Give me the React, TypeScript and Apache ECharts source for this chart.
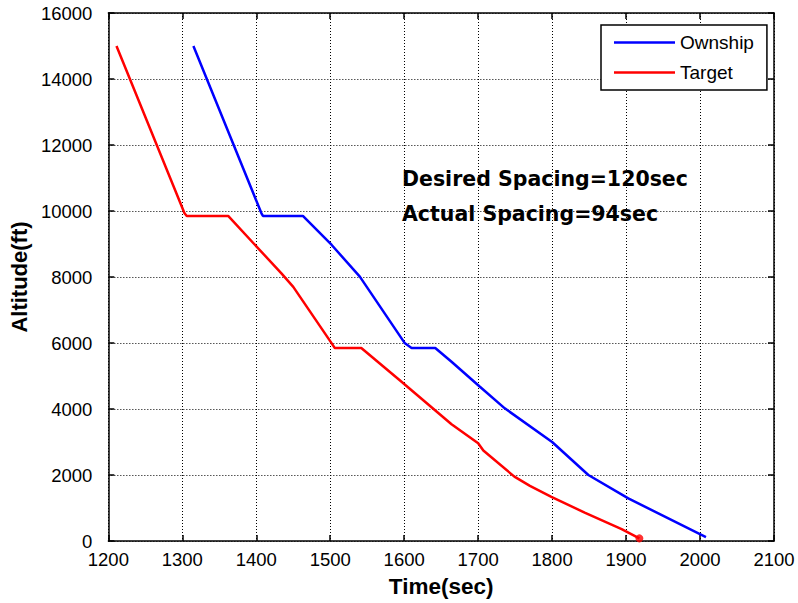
import React, { useEffect, useRef } from "react";
import * as echarts from "echarts";

const ownshipTime = [1315, 1407, 1409, 1463, 1502, 1540, 1601, 1610, 1642, 1664, 1702, 1736, 1800, 1849, 1903, 2008];
const ownshipAlt = [15000, 9930, 9850, 9850, 8970, 8010, 5990, 5850, 5850, 5430, 4680, 4020, 3000, 2000, 1290, 120];

const targetTime = [1211, 1303, 1306, 1362, 1434, 1450, 1502, 1506, 1542, 1594, 1664, 1700, 1707, 1749, 1770, 1799, 1844, 1894, 1918];
const targetAlt = [15000, 9930, 9850, 9850, 8110, 7700, 5990, 5850, 5850, 4870, 3540, 2960, 2740, 1950, 1670, 1340, 860, 360, 80];

const seriesNames = ["Ownship", "Target"];
const annotations = ["Desired Spacing=120sec", "Actual Spacing=94sec"];

const FONT = "'Liberation Sans', Arial, sans-serif";
const BOLD_FONT = "'DejaVu Sans', 'Liberation Sans', sans-serif";

function zip(xs: number[], ys: number[]) {
  return xs.map((x, i) => [x, ys[i]]);
}

export default function App() {
  const ref = useRef<HTMLDivElement>(null);
  useEffect(() => {
    if (!ref.current) return;
    const chart = echarts.init(ref.current, null, { renderer: "svg" });
    const tickLabel = { fontFamily: FONT, fontSize: 18.5, color: "#000" };
    const grid = { left: 107, top: 13, width: 667, height: 528 };
    const lastTarget = [targetTime[targetTime.length - 1], targetAlt[targetAlt.length - 1]];
    chart.setOption({
      animation: false,
      backgroundColor: "#fff",
      grid,
      xAxis: [
        {
          type: "value",
          min: 1200,
          max: 2100,
          interval: 100,
          name: "Time(sec)",
          nameLocation: "middle",
          nameGap: 34,
          nameTextStyle: { fontFamily: FONT, fontSize: 22.5, fontWeight: "bold", color: "#000" },
          axisLine: { show: true, onZero: false, lineStyle: { color: "#000", width: 1.5 } },
          axisTick: { show: true, inside: true, length: 6, lineStyle: { color: "#000", width: 1.5 } },
          axisLabel: { ...tickLabel, margin: 9, formatter: (v: number) => String(v) },
          splitLine: { show: true, lineStyle: { color: "#000", type: [1, 2], width: 1 } },
        },
        {
          type: "value",
          position: "top",
          min: 1200,
          max: 2100,
          interval: 100,
          axisLine: { show: true, onZero: false, lineStyle: { color: "#000", width: 1.5 } },
          axisTick: { show: true, inside: true, length: 6, lineStyle: { color: "#000", width: 1.5 } },
          axisLabel: { show: false },
          splitLine: { show: false },
        },
      ],
      yAxis: [
        {
          type: "value",
          min: 0,
          max: 16000,
          interval: 2000,
          name: "Altitude(ft)",
          nameLocation: "middle",
          nameGap: 72,
          nameTextStyle: { fontFamily: FONT, fontSize: 22, fontWeight: "bold", color: "#000" },
          axisLine: { show: true, onZero: false, lineStyle: { color: "#000", width: 1.5 } },
          axisTick: { show: true, inside: true, length: 6, lineStyle: { color: "#000", width: 1.5 } },
          axisLabel: {
            ...tickLabel,
            margin: 16,
            formatter: (v: number) => (v === 0 ? "{z|0}" : String(v)),
            rich: { z: { fontFamily: FONT, fontSize: 18.5, color: "#000", padding: [0, 0, 0, 0] } },
          },
          splitLine: { show: true, lineStyle: { color: "#000", type: [1, 2], width: 1 } },
        },
        {
          type: "value",
          position: "right",
          min: 0,
          max: 16000,
          interval: 2000,
          axisLine: { show: true, onZero: false, lineStyle: { color: "#000", width: 1.5 } },
          axisTick: { show: true, inside: true, length: 6, lineStyle: { color: "#000", width: 1.5 } },
          axisLabel: { show: false },
          splitLine: { show: false },
        },
      ],
      legend: {
        data: seriesNames,
        orient: "vertical",
        left: 601,
        top: 25,
        icon: "rect",
        itemWidth: 61,
        itemHeight: 2.5,
        itemGap: 11,
        padding: [8, 13, 8, 13],
        borderColor: "#000",
        borderWidth: 1.5,
        backgroundColor: "#fff",
        textStyle: { fontFamily: FONT, fontSize: 19, color: "#000" },
      },
      series: [
        {
          name: seriesNames[0],
          type: "line",
          data: zip(ownshipTime, ownshipAlt),
          symbol: "none",
          lineStyle: { color: "#0000ff", width: 2.5 },
          itemStyle: { color: "#0000ff" },
        },
        {
          name: seriesNames[1],
          type: "line",
          data: zip(targetTime, targetAlt),
          symbol: "none",
          lineStyle: { color: "#ff0000", width: 2.5 },
          itemStyle: { color: "#ff0000" },
        },
        {
          name: "TargetEnd",
          type: "scatter",
          data: [lastTarget],
          symbol: "circle",
          symbolSize: 8,
          itemStyle: { color: "#ff0000" },
          z: 5,
        },
      ],
      graphic: [
        {
          type: "text",
          left: 402,
          top: 168,
          style: { text: annotations[0], font: `bold 20.5px ${BOLD_FONT}`, fill: "#000" },
        },
        {
          type: "text",
          left: 402,
          top: 203,
          style: { text: annotations[1], font: `bold 20.5px ${BOLD_FONT}`, fill: "#000" },
        },
      ],
    });
    return () => chart.dispose();
  }, []);
  return <div ref={ref} style={{ position: "fixed", left: 0, top: 0, width: 798, height: 603 }} />;
}
